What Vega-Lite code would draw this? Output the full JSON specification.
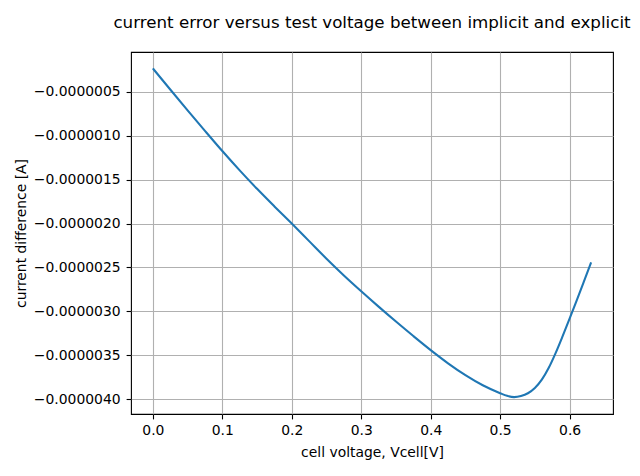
{
  "$schema": "https://vega.github.io/schema/vega-lite/v6.json",
  "width": 482,
  "height": 362,
  "autosize": {"type": "none"},
  "padding": {"left": 131, "top": 52, "right": 27, "bottom": 62},
  "background": "white",
  "title": {
    "text": "current error versus test voltage between implicit and explicit",
    "font": "DejaVu Sans",
    "fontSize": 16.7,
    "fontWeight": "normal",
    "color": "black",
    "anchor": "middle",
    "baseline": "alphabetic",
    "offset": 7
  },
  "config": {
    "view": {"stroke": "black", "strokeWidth": 1.1},
    "axis": {
      "labelFont": "DejaVu Sans",
      "titleFont": "DejaVu Sans",
      "labelFontSize": 13.9,
      "titleFontSize": 13.9,
      "titleFontWeight": "normal",
      "labelColor": "black",
      "titleColor": "black",
      "tickColor": "black",
      "tickSize": 4.9,
      "tickWidth": 1.1,
      "domain": false,
      "gridColor": "#b0b0b0",
      "gridWidth": 1.1,
      "gridOpacity": 1
    }
  },
  "data": {
    "values": [
      {"v": 0.000, "i": -0.235e-6},
      {"v": 0.025, "i": -0.475e-6},
      {"v": 0.050, "i": -0.712e-6},
      {"v": 0.075, "i": -0.945e-6},
      {"v": 0.100, "i": -1.175e-6},
      {"v": 0.125, "i": -1.395e-6},
      {"v": 0.150, "i": -1.605e-6},
      {"v": 0.175, "i": -1.805e-6},
      {"v": 0.200, "i": -2.000e-6},
      {"v": 0.225, "i": -2.200e-6},
      {"v": 0.250, "i": -2.400e-6},
      {"v": 0.275, "i": -2.590e-6},
      {"v": 0.300, "i": -2.770e-6},
      {"v": 0.325, "i": -2.945e-6},
      {"v": 0.350, "i": -3.115e-6},
      {"v": 0.375, "i": -3.280e-6},
      {"v": 0.400, "i": -3.440e-6},
      {"v": 0.425, "i": -3.590e-6},
      {"v": 0.450, "i": -3.725e-6},
      {"v": 0.475, "i": -3.840e-6},
      {"v": 0.500, "i": -3.930e-6},
      {"v": 0.510, "i": -3.960e-6},
      {"v": 0.520, "i": -3.975e-6},
      {"v": 0.530, "i": -3.963e-6},
      {"v": 0.540, "i": -3.931e-6},
      {"v": 0.550, "i": -3.871e-6},
      {"v": 0.560, "i": -3.776e-6},
      {"v": 0.570, "i": -3.641e-6},
      {"v": 0.580, "i": -3.471e-6},
      {"v": 0.590, "i": -3.281e-6},
      {"v": 0.600, "i": -3.083e-6},
      {"v": 0.610, "i": -2.880e-6},
      {"v": 0.620, "i": -2.673e-6},
      {"v": 0.631, "i": -2.443e-6}
    ]
  },
  "mark": {"type": "line", "color": "#1f77b4", "strokeWidth": 2.08, "interpolate": "monotone"},
  "encoding": {
    "x": {
      "field": "v",
      "type": "quantitative",
      "scale": {"domain": [-0.0315, 0.6625], "nice": false, "zero": false},
      "axis": {
        "title": "cell voltage, Vcell[V]",
        "values": [0, 0.1, 0.2, 0.3, 0.4, 0.5, 0.6],
        "format": ".1f",
        "labelPadding": 4.5,
        "titlePadding": 8
      }
    },
    "y": {
      "field": "i",
      "type": "quantitative",
      "scale": {"domain": [-4.167e-6, -0.048e-6], "nice": false, "zero": false},
      "axis": {
        "title": "current difference [A]",
        "values": [-4.0e-6, -3.5e-6, -3.0e-6, -2.5e-6, -2.0e-6, -1.5e-6, -1.0e-6, -0.5e-6],
        "format": ".7f",
        "labelPadding": 6,
        "titlePadding": 5
      }
    }
  }
}
